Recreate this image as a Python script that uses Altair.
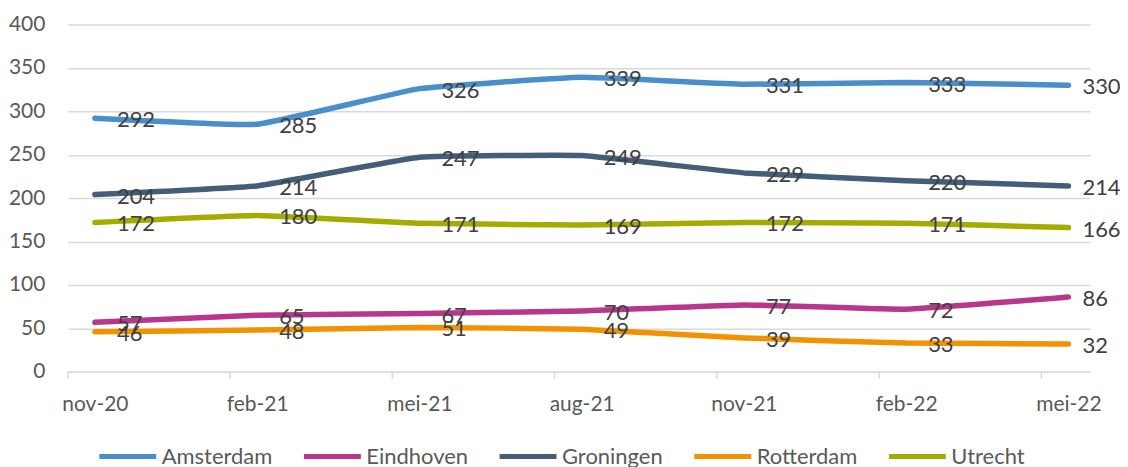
import altair as alt
import pandas as pd

# --- data ---
month_labels = ["nov-20", "feb-21", "mei-21", "aug-21", "nov-21", "feb-22", "mei-22"]
month_index = [0, 3, 6, 9, 12, 15, 18]
cities = ["Amsterdam", "Eindhoven", "Groningen", "Rotterdam", "Utrecht"]
amsterdam = [292, 285, 326, 339, 331, 333, 330]
eindhoven = [57, 65, 67, 70, 77, 72, 86]
groningen = [204, 214, 247, 249, 229, 220, 214]
rotterdam = [46, 48, 51, 49, 39, 33, 32]
utrecht = [172, 180, 171, 169, 172, 171, 166]
colors = ["#4A8FCB", "#B8368B", "#445D78", "#F39200", "#A5AC00"]

series = dict(zip(cities, [amsterdam, eindhoven, groningen, rotterdam, utrecht]))
rows = []
for city, vals in series.items():
    for t, lab, v in zip(month_index, month_labels, vals):
        rows.append({"city": city, "t": t, "label": lab, "value": v})
df = pd.DataFrame(rows)

tick_df = pd.DataFrame({"tp": [m - 0.5 for m in month_index]})

FONT = "Lato"
FS = 21
W, H = 1024, 348
XDOM = [-0.5, 18.4]

label_expr = "[" + ",".join(f"'{l}'" for l in month_labels) + "][round(datum.value/3)]"

x_enc = alt.X(
    "t:Q",
    scale=alt.Scale(domain=XDOM, nice=False, zero=False),
    axis=alt.Axis(
        values=month_index, labelExpr=label_expr, title=None, grid=False,
        ticks=False, tickSize=0, domainColor="#d9d9d9", domainWidth=1.5,
        labelFont=FONT, labelFontSize=FS, labelColor="#595959", labelPadding=22,
    ),
)
y_enc = alt.Y(
    "value:Q",
    scale=alt.Scale(domain=[0, 400], nice=False),
    axis=alt.Axis(
        values=list(range(0, 401, 50)), title=None, domain=False, ticks=False,
        tickSize=0, gridColor="#d9d9d9", gridWidth=1.5,
        labelFont=FONT, labelFontSize=FS, labelColor="#595959", labelPadding=23,
    ),
)
color_enc = alt.Color(
    "city:N",
    scale=alt.Scale(domain=cities, range=colors),
    legend=alt.Legend(
        title=None, orient="none", legendX=29, legendY=402, direction="horizontal",
        columns=5, symbolType="stroke", symbolSize=3249, symbolStrokeWidth=5,
        labelFont=FONT, labelFontSize=22, labelColor="#595959", columnPadding=21,
        labelOffset=3,
    ),
)

base = alt.Chart(df)

ticks = alt.Chart(tick_df).mark_rule(color="#d9d9d9", strokeWidth=1.5).encode(
    x=alt.X("tp:Q", scale=alt.Scale(domain=XDOM, nice=False, zero=False)),
    y=alt.value(H),
    y2=alt.value(H + 7),
)

lines = base.mark_line(
    interpolate="cardinal", tension=0.7, strokeWidth=5.5, strokeCap="round", strokeJoin="round"
).encode(x=x_enc, y=y_enc, color=color_enc)

text_mid = base.transform_filter("datum.t < 18").mark_text(
    align="left", baseline="middle", dx=22, dy=2, font=FONT, fontSize=22, color="#404040"
).encode(x="t:Q", y="value:Q", text="value:Q")

text_last = base.transform_filter("datum.t >= 18").mark_text(
    align="left", baseline="middle", dx=14, dy=2, font=FONT, fontSize=22, color="#404040"
).encode(x="t:Q", y="value:Q", text="value:Q")

chart = alt.layer(lines, ticks, text_mid, text_last).properties(
    width=W, height=H,
    autosize=alt.AutoSizeParams(type="none"),
    padding={"left": 60, "top": 16, "right": 30, "bottom": 95},
).configure_view(stroke=None)

chart.save("out.html", embed_options={"renderer": "svg", "actions": False})
